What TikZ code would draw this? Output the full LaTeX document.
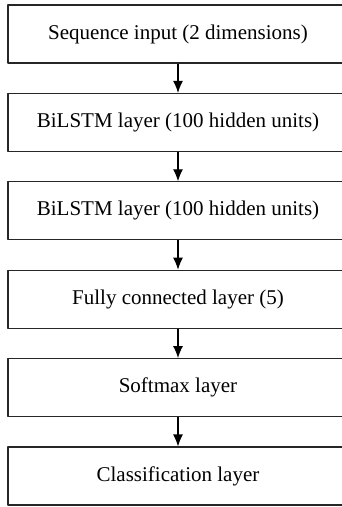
\documentclass[tikz,border=0pt]{standalone}
\usepackage{fontspec}
\setmainfont{Liberation Serif}
\usetikzlibrary{arrows.meta}
\begin{document}
\begin{tikzpicture}[x=1pt, y=-1pt, font=\fontsize{21}{25}\selectfont, line join=round, >={Latex[length=12pt,width=10pt]}]
	\tikzset{layer/.style={draw=black!85, line width=1.1pt, minimum width=340pt, minimum height=58pt, inner sep=0pt}}
	\useasboundingbox (0,0) rectangle (342,507);
	\clip (0,0) rectangle (342,507);
	\def\k{88.4}
	\node[layer] (L1) at (178,34) {Sequence input (2 dimensions)};
	\node[layer] (L2) at (178,34+1*\k) {BiLSTM layer (100 hidden units)};
	\node[layer] (L3) at (178,34+2*\k) {BiLSTM layer (100 hidden units)};
	\node[layer] (L4) at (178,34+3*\k) {Fully connected layer (5)};
	\node[layer] (L5) at (178,34+4*\k) {Softmax layer};
	\node[layer] (L6) at (178,34+5*\k) {Classification layer};
	\draw[->, line width=1.1pt] (L1)--(L2);
	\draw[->, line width=1.1pt] (L2)--(L3);
	\draw[->, line width=1.1pt] (L3)--(L4);
	\draw[->, line width=1.1pt] (L4)--(L5);
	\draw[->, line width=1.1pt] (L5)--(L6);
\end{tikzpicture}
\end{document}
